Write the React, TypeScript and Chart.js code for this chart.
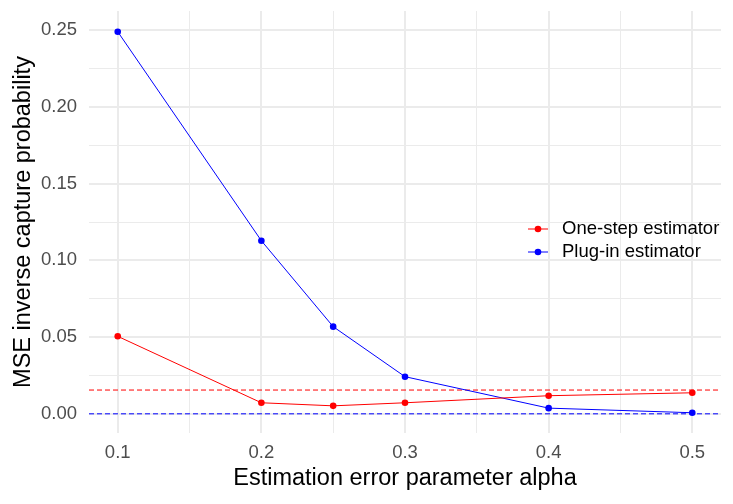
import { useEffect, useRef } from "react";
import { Chart, registerables } from "chart.js";

Chart.register(...registerables);

// values
const alpha = [0.1, 0.2, 0.25, 0.3, 0.4, 0.5];
const oneStep = [0.0505, 0.0072, 0.0052, 0.0072, 0.0118, 0.0137];
const plugIn = [0.249, 0.1128, 0.0568, 0.0242, 0.0037, 0.0007];
const oneStepRef = 0.0155;
const plugInRef = 0;
const seriesNames = ["One-step estimator", "Plug-in estimator"];

const xMajor = [0.1, 0.2, 0.3, 0.4, 0.5];
const xMinor = [0.15, 0.25, 0.35, 0.45];
const yMajor = [0, 0.05, 0.1, 0.15, 0.2, 0.25];
const yMinor = [0.025, 0.075, 0.125, 0.175, 0.225];
const xLimits = [0.08, 0.52];
const yLimits = [-0.0125, 0.2625];

const FONT = "'Liberation Sans', Arial, sans-serif";
const RED = "#FF0000";
const BLUE = "#0000FF";

const isIn = (list: number[], v: number) => list.some((m) => Math.abs(m - v) < 1e-9);

const insideLegend = {
  id: "insideLegend",
  afterDatasetsDraw(chart: any) {
    const { ctx, chartArea } = chart;
    const rows = chart.data.datasets.filter((d: any) => d.label);
    const keyX = chartArea.right - 183;
    const top = chartArea.top + 218;
    ctx.save();
    ctx.font = `18.5px ${FONT}`;
    ctx.textBaseline = "middle";
    ctx.textAlign = "left";
    rows.forEach((d: any, i: number) => {
      const y = top + i * 23;
      ctx.strokeStyle = d.borderColor;
      ctx.lineWidth = 1;
      ctx.beginPath();
      ctx.moveTo(keyX - 10, y);
      ctx.lineTo(keyX + 10, y);
      ctx.stroke();
      ctx.fillStyle = d.borderColor;
      ctx.beginPath();
      ctx.arc(keyX, y, 3.3, 0, Math.PI * 2);
      ctx.fill();
      ctx.fillStyle = "#000000";
      ctx.fillText(d.label, keyX + 24, y);
    });
    ctx.restore();
  },
};

export default function App() {
  const canvasRef = useRef<HTMLCanvasElement>(null);

  useEffect(() => {
    const ctx = canvasRef.current?.getContext("2d");
    if (!ctx) return;

    const refLine = (y: number, color: string) => ({
      label: "",
      data: xLimits.map((x) => ({ x, y })),
      borderColor: color,
      borderWidth: 1,
      borderDash: [5, 3],
      pointRadius: 0,
    });

    const series = (values: number[], name: string, color: string) => ({
      label: name,
      data: alpha.map((x, i) => ({ x, y: values[i] })),
      borderColor: color,
      backgroundColor: color,
      borderWidth: 1,
      pointRadius: 3.3,
      pointBorderWidth: 0,
      tension: 0,
    });

    const chart = new Chart(ctx, {
      type: "line",
      data: {
        datasets: [
          series(oneStep, seriesNames[0], RED),
          series(plugIn, seriesNames[1], BLUE),
          refLine(oneStepRef, RED),
          refLine(plugInRef, BLUE),
        ],
      },
      options: {
        responsive: false,
        animation: false,
        layout: { padding: { top: 11, right: 12, left: 0, bottom: 0 } },
        plugins: { legend: { display: false }, tooltip: { enabled: false } },
        scales: {
          x: {
            type: "linear",
            min: xLimits[0],
            max: xLimits[1],
            afterBuildTicks: (scale: any) => {
              scale.ticks = [...xMajor, ...xMinor].sort((a, b) => a - b).map((value) => ({ value }));
            },
            afterFit: (scale: any) => {
              scale.height = 71;
              scale.paddingLeft = 0;
              scale.paddingRight = 0;
            },
            ticks: {
              autoSkip: false,
              maxRotation: 0,
              padding: 9,
              color: "#4D4D4D",
              font: { family: FONT, size: 18.5 },
              callback: (v: any) => (isIn(xMajor, v) ? Number(v).toFixed(1) : ""),
            },
            grid: {
              drawTicks: false,
              color: "#EBEBEB",
              lineWidth: (c: any) => (isIn(xMajor, c.tick.value) ? 2 : 1),
            },
            border: { display: false },
            title: {
              display: true,
              text: "Estimation error parameter alpha",
              color: "#000000",
              font: { family: FONT, size: 23.5 },
              padding: 11,
            },
          },
          y: {
            type: "linear",
            min: yLimits[0],
            max: yLimits[1],
            afterBuildTicks: (scale: any) => {
              scale.ticks = [...yMajor, ...yMinor].sort((a, b) => a - b).map((value) => ({ value }));
            },
            afterFit: (scale: any) => {
              scale.width = 89;
              scale.paddingTop = 0;
              scale.paddingBottom = 0;
            },
            ticks: {
              autoSkip: false,
              padding: 12,
              color: "#4D4D4D",
              font: { family: FONT, size: 18.5 },
              callback: (v: any) => (isIn(yMajor, v) ? Number(v).toFixed(2) : ""),
            },
            grid: {
              drawTicks: false,
              color: "#EBEBEB",
              lineWidth: (c: any) => (isIn(yMajor, c.tick.value) ? 2 : 1),
            },
            border: { display: false },
            title: {
              display: true,
              text: "MSE inverse capture probability",
              color: "#000000",
              font: { family: FONT, size: 23.5 },
              padding: 9,
            },
          },
        },
      },
      plugins: [insideLegend],
    });

    return () => {
      chart.destroy();
    };
  }, []);

  return (
    <div style={{ position: "fixed", left: 0, top: 0, width: 733, height: 504, background: "#ffffff" }}>
      <canvas ref={canvasRef} width={733} height={504} />
    </div>
  );
}
